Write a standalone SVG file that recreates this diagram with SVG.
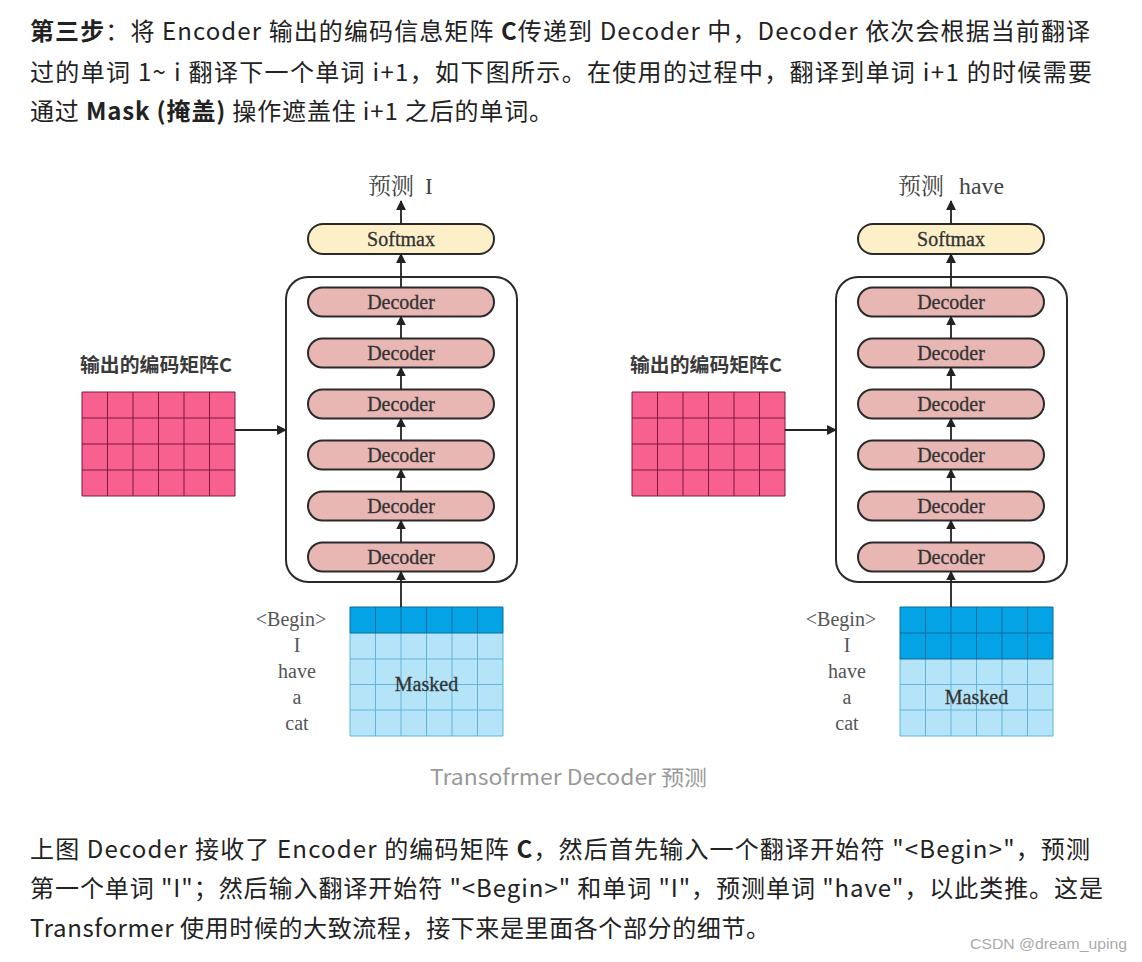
<svg xmlns="http://www.w3.org/2000/svg" width="1142" height="962" viewBox="0 0 1142 962">
<defs>
<style>
.p{font-family:"Noto Sans CJK SC","Noto Sans",sans-serif;font-size:24px;fill:#222;}
.b{font-weight:700;}
.cap{font-family:"Noto Sans CJK SC","Noto Sans",sans-serif;font-size:21px;fill:#999;}
.wm{font-family:"Liberation Sans","Noto Sans CJK SC",sans-serif;font-size:15px;fill:#aaa;}
.ser{font-family:"Liberation Serif","Noto Sans CJK SC",serif;font-size:20px;fill:#333;stroke:#333;stroke-width:0.3;}
.lbl{font-family:"Liberation Serif","Noto Sans CJK SC",serif;font-size:20px;fill:#555;text-anchor:middle;}
.pred{font-family:"Noto Serif CJK SC","Noto Sans CJK SC",serif;font-size:23px;fill:#444;}
.predw{font-family:"Liberation Serif",serif;font-size:23px;fill:#444;}
.ctitle{font-family:"Noto Sans CJK SC",sans-serif;font-size:19px;font-weight:700;fill:#3a3a3a;}
.dec{fill:#e8b7b3;stroke:#2a2a2a;stroke-width:2;}
.sm{fill:#fdf0c8;stroke:#2a2a2a;stroke-width:2;}
.box{fill:none;stroke:#2a2a2a;stroke-width:2;}
.ctr{text-anchor:middle;}
.pink{fill:#f7608f;}
.pgrid{stroke:#7a1840;stroke-width:1;fill:none;}
.dark{fill:#04a3e6;}
.light{fill:#b5e4f8;}
.bgrid{stroke:#5fb6dc;stroke-width:1;fill:none;}
.dgrid{stroke:#0a6c9c;stroke-width:1;fill:none;}
.arr{stroke:#222;stroke-width:1.8;fill:none;marker-end:url(#ah);}
</style>
<marker id="ah" viewBox="0 0 10 10" refX="9" refY="5" markerWidth="5.5" markerHeight="6" orient="auto" markerUnits="strokeWidth">
<path d="M0,0 L10,5 L0,10 z" fill="#222"/>
</marker>
</defs>
<rect width="1142" height="962" fill="#fff"/>

<g id="para-top">
<text class="p" x="30" y="40" textLength="1060" lengthAdjust="spacing"><tspan class="b">第三步</tspan>：将 Encoder 输出的编码信息矩阵 <tspan class="b">C</tspan>传递到 Decoder 中，Decoder 依次会根据当前翻译</text>
<text class="p" x="30" y="81" textLength="1062" lengthAdjust="spacing">过的单词 1~ i 翻译下一个单词 i+1，如下图所示。在使用的过程中，翻译到单词 i+1 的时候需要</text>
<text class="p" x="30" y="120" textLength="523" lengthAdjust="spacing">通过 <tspan class="b">Mask (掩盖)</tspan> 操作遮盖住 i+1 之后的单词。</text>
</g>

<!-- LEFT DIAGRAM -->
<g id="left">
<g id="L-pred"><text class="pred" x="368" y="194" textLength="46" lengthAdjust="spacingAndGlyphs">预测</text><text class="predw" x="425" y="194">I</text></g>
<g id="L-softmax"><rect class="sm" x="308" y="224" width="186" height="30" rx="15"/><text class="ser ctr" x="401" y="246">Softmax</text></g>
<g id="L-stack"><rect class="box" x="286" y="277" width="231" height="305" rx="22"/></g>
<g id="L-dec1"><rect class="dec" x="308" y="287.5" width="186" height="29" rx="14.5"/><text class="ser ctr" x="401" y="309">Decoder</text></g>
<g id="L-dec2"><rect class="dec" x="308" y="338.5" width="186" height="29" rx="14.5"/><text class="ser ctr" x="401" y="360">Decoder</text></g>
<g id="L-dec3"><rect class="dec" x="308" y="389.5" width="186" height="29" rx="14.5"/><text class="ser ctr" x="401" y="411">Decoder</text></g>
<g id="L-dec4"><rect class="dec" x="308" y="440.5" width="186" height="29" rx="14.5"/><text class="ser ctr" x="401" y="462">Decoder</text></g>
<g id="L-dec5"><rect class="dec" x="308" y="491.5" width="186" height="29" rx="14.5"/><text class="ser ctr" x="401" y="513">Decoder</text></g>
<g id="L-dec6"><rect class="dec" x="308" y="542.5" width="186" height="29" rx="14.5"/><text class="ser ctr" x="401" y="564">Decoder</text></g>
<g id="L-C">
<text class="ctitle" x="80" y="372" textLength="152" lengthAdjust="spacingAndGlyphs">输出的编码矩阵C</text>
<rect class="pink" x="82" y="392" width="153" height="104"/>
<path class="pgrid" d="M82,392H235M82,418H235M82,444H235M82,470H235M82,496H235M82,392V496M107.5,392V496M133,392V496M158.5,392V496M184,392V496M209.5,392V496M235,392V496"/>
</g>
<g id="L-input">
<rect class="light" x="350" y="607" width="153" height="129"/>
<rect class="dark" x="350" y="607" width="153" height="26"/>
<path class="bgrid" d="M350,659H503M350,684.5H503M350,710H503M350,736H503M375.5,633V736M401,633V736M426.5,633V736M452,633V736M477.5,633V736M350,633V736M503,633V736"/>
<path class="dgrid" d="M350,607H503M350,633H503M350,607V633M375.5,607V633M401,607V633M426.5,607V633M452,607V633M477.5,607V633M503,607V633"/>
<text class="ser ctr" x="426.5" y="691">Masked</text>
</g>
<g id="L-words">
<text class="lbl" x="291" y="626">&lt;Begin&gt;</text>
<text class="lbl" x="297" y="652">I</text>
<text class="lbl" x="297" y="678">have</text>
<text class="lbl" x="297" y="704">a</text>
<text class="lbl" x="297" y="730">cat</text>
</g>
</g>

<!-- RIGHT DIAGRAM -->
<g id="right">
<g id="R-pred"><text class="pred" x="898" y="194" textLength="46" lengthAdjust="spacingAndGlyphs">预测</text><text class="predw" x="959" y="194" textLength="45" lengthAdjust="spacingAndGlyphs">have</text></g>
<g id="R-softmax"><rect class="sm" x="858" y="224" width="186" height="30" rx="15"/><text class="ser ctr" x="951" y="246">Softmax</text></g>
<g id="R-stack"><rect class="box" x="836" y="277" width="231" height="305" rx="22"/></g>
<g id="R-dec1"><rect class="dec" x="858" y="287.5" width="186" height="29" rx="14.5"/><text class="ser ctr" x="951" y="309">Decoder</text></g>
<g id="R-dec2"><rect class="dec" x="858" y="338.5" width="186" height="29" rx="14.5"/><text class="ser ctr" x="951" y="360">Decoder</text></g>
<g id="R-dec3"><rect class="dec" x="858" y="389.5" width="186" height="29" rx="14.5"/><text class="ser ctr" x="951" y="411">Decoder</text></g>
<g id="R-dec4"><rect class="dec" x="858" y="440.5" width="186" height="29" rx="14.5"/><text class="ser ctr" x="951" y="462">Decoder</text></g>
<g id="R-dec5"><rect class="dec" x="858" y="491.5" width="186" height="29" rx="14.5"/><text class="ser ctr" x="951" y="513">Decoder</text></g>
<g id="R-dec6"><rect class="dec" x="858" y="542.5" width="186" height="29" rx="14.5"/><text class="ser ctr" x="951" y="564">Decoder</text></g>
<g id="R-C">
<text class="ctitle" x="630" y="372" textLength="152" lengthAdjust="spacingAndGlyphs">输出的编码矩阵C</text>
<rect class="pink" x="632" y="392" width="153" height="104"/>
<path class="pgrid" d="M632,392H785M632,418H785M632,444H785M632,470H785M632,496H785M632,392V496M657.5,392V496M683,392V496M708.5,392V496M734,392V496M759.5,392V496M785,392V496"/>
</g>
<g id="R-input">
<rect class="light" x="900" y="607" width="153" height="129"/>
<rect class="dark" x="900" y="607" width="153" height="52"/>
<path class="bgrid" d="M900,684.5H1053M900,710H1053M900,736H1053M925.5,659V736M951,659V736M976.5,659V736M1002,659V736M1027.5,659V736M900,659V736M1053,659V736"/>
<path class="dgrid" d="M900,607H1053M900,633H1053M900,659H1053M900,607V659M925.5,607V659M951,607V659M976.5,607V659M1002,607V659M1027.5,607V659M1053,607V659"/>
<text class="ser ctr" x="976.5" y="704">Masked</text>
</g>
<g id="R-words">
<text class="lbl" x="841" y="626">&lt;Begin&gt;</text>
<text class="lbl" x="847" y="652">I</text>
<text class="lbl" x="847" y="678">have</text>
<text class="lbl" x="847" y="704">a</text>
<text class="lbl" x="847" y="730">cat</text>
</g>
</g>

<g id="connectors">
<path class="arr" d="M401,224V201"/>
<path class="arr" d="M401,287.5V254"/>
<path class="arr" d="M401,338.5V316.5"/>
<path class="arr" d="M401,389.5V367.5"/>
<path class="arr" d="M401,440.5V418.5"/>
<path class="arr" d="M401,491.5V469.5"/>
<path class="arr" d="M401,542.5V520.5"/>
<path class="arr" d="M401,607V571.5"/>
<path class="arr" d="M235,430H286"/>
<path class="arr" d="M951,224V201"/>
<path class="arr" d="M951,287.5V254"/>
<path class="arr" d="M951,338.5V316.5"/>
<path class="arr" d="M951,389.5V367.5"/>
<path class="arr" d="M951,440.5V418.5"/>
<path class="arr" d="M951,491.5V469.5"/>
<path class="arr" d="M951,542.5V520.5"/>
<path class="arr" d="M951,607V571.5"/>
<path class="arr" d="M785,430H836"/>
</g>

<g id="caption"><text class="cap" x="430" y="785" textLength="277" lengthAdjust="spacingAndGlyphs">Transofrmer Decoder 预测</text></g>

<g id="para-bottom">
<text class="p" x="30" y="858" textLength="1060" lengthAdjust="spacing">上图 Decoder 接收了 Encoder 的编码矩阵 <tspan class="b">C</tspan>，然后首先输入一个翻译开始符 "&lt;Begin&gt;"，预测</text>
<text class="p" x="30" y="897" textLength="1073" lengthAdjust="spacing">第一个单词 "I"；然后输入翻译开始符 "&lt;Begin&gt;" 和单词 "I"，预测单词 "have"，以此类推。这是</text>
<text class="p" x="30" y="937" textLength="740" lengthAdjust="spacing">Transformer 使用时候的大致流程，接下来是里面各个部分的细节。</text>
</g>
<g id="watermark"><text class="wm" x="970" y="949" textLength="157" lengthAdjust="spacingAndGlyphs">CSDN @dream_uping</text></g>
</svg>
